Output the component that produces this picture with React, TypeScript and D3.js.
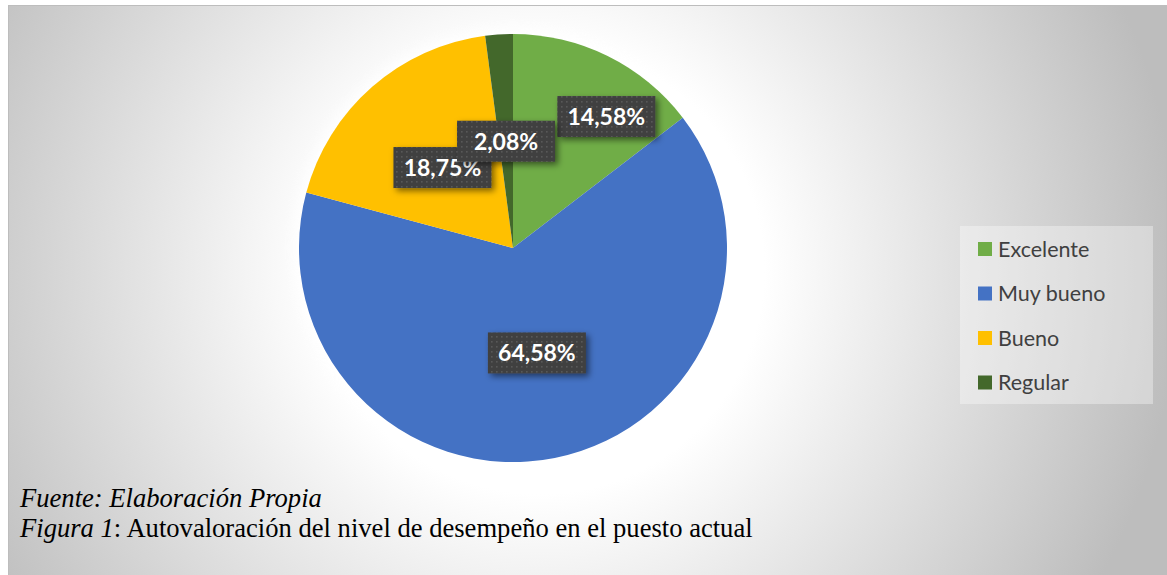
import React from "react";
import * as d3 from "d3";

const categories = ["Excelente", "Muy bueno", "Bueno", "Regular"];
const values = [14.58, 64.58, 18.75, 2.08];
const valueLabels = ["14,58%", "64,58%", "18,75%", "2,08%"];
const colors = ["#70AD47", "#4472C4", "#FFC000", "#43682B"];
const captionSource = "Fuente: Elaboración Propia";
const captionFigure = "Figura 1";
const captionText = ": Autovaloración del nivel de desempeño en el puesto actual";

// layout
const W = 1167;
const H = 575;
const CX = 513;
const CY = 248;
const R = 214;
const BOX_W = 98;
const BOX_H = 41;
// per-label nudge used by the chart's best-fit placement to avoid overlaps
const labelNudge: [number, number][] = [[46, -35.5], [3, 0], [0, 0], [0, 0]];

export default function App() {
  const pie = d3.pie<number>().sort(null).value((d) => d)(values);
  const arc = d3.arc<d3.PieArcDatum<number>>().innerRadius(0).outerRadius(R);
  const labelArc = d3.arc<d3.PieArcDatum<number>>().innerRadius(R * 0.5).outerRadius(R * 0.5);
  const legendY = d3.scalePoint<string>().domain(categories).range([249, 382.5]);

  return (
    <svg
      width={W}
      height={H}
      style={{ position: "absolute", left: 0, top: 0, display: "block" }}
      fontFamily="Lato, 'Open Sans', sans-serif"
    >
      <defs>
        <radialGradient id="bg" gradientUnits="userSpaceOnUse" cx={540} cy={270} r={640}>
          <stop offset="0.35" stopColor="#ffffff" />
          <stop offset="1" stopColor="#bdbdbd" />
        </radialGradient>
        <pattern id="dots" width={5} height={5} patternUnits="userSpaceOnUse">
          <rect width={5} height={5} fill="#404040" />
          <rect x={1} y={1} width={1.6} height={1.6} fill="#585858" />
        </pattern>
        <filter id="shadow" x="-20%" y="-30%" width="150%" height="180%">
          <feDropShadow dx={3} dy={3} stdDeviation={3} floodColor="#000" floodOpacity={0.5} />
        </filter>
        <filter id="glow" x="-20%" y="-20%" width="140%" height="140%">
          <feGaussianBlur stdDeviation={6} />
        </filter>
      </defs>
      <rect x={0} y={0} width={W} height={H} fill="#ffffff" />
      <rect x={8.5} y={5.5} width={1158} height={H} fill="url(#bg)" stroke="#bdbdbd" strokeWidth={1} />

      <circle cx={CX} cy={CY} r={R + 6} fill="#ffffff" opacity={0.8} filter="url(#glow)" />
      <g transform={`translate(${CX},${CY})`}>
        {pie.map((p, i) => (
          <path key={categories[i]} d={arc(p) || ""} fill={colors[i]} />
        ))}
      </g>

      <g>
        {pie.map((p, i) => {
          const [lx, ly] = labelArc.centroid(p);
          const x = CX + lx + labelNudge[i][0];
          const y = CY + ly + labelNudge[i][1];
          return (
            <g key={"l" + i}>
              <rect
                x={x - BOX_W / 2}
                y={y - BOX_H / 2}
                width={BOX_W}
                height={BOX_H}
                fill="url(#dots)"
                filter="url(#shadow)"
              />
              <text
                x={x}
                y={y}
                dy="0.36em"
                textAnchor="middle"
                fill="#ffffff"
                fontWeight="bold"
                fontSize={23}
              >
                {valueLabels[i]}
              </text>
            </g>
          );
        })}
      </g>

      <rect x={960} y={226} width={193} height={178} fill="#ffffff" opacity={0.35} />
      {categories.map((c, i) => {
        const y = legendY(c) as number;
        return (
          <g key={"lg" + c}>
            <rect x={978} y={y - 7} width={14} height={14} fill={colors[i]} />
            <text x={998} y={y} dy="0.35em" fontSize={21.5} fill="#404040">
              {c}
            </text>
          </g>
        );
      })}

      <g fontFamily="'Liberation Serif', 'Times New Roman', serif" fontSize={26.6} fill="#000">
        <text x={20} y={507} fontStyle="italic">
          {captionSource}
        </text>
        <text x={20} y={537}>
          <tspan fontStyle="italic">{captionFigure}</tspan>
          <tspan>{captionText}</tspan>
        </text>
      </g>
    </svg>
  );
}
